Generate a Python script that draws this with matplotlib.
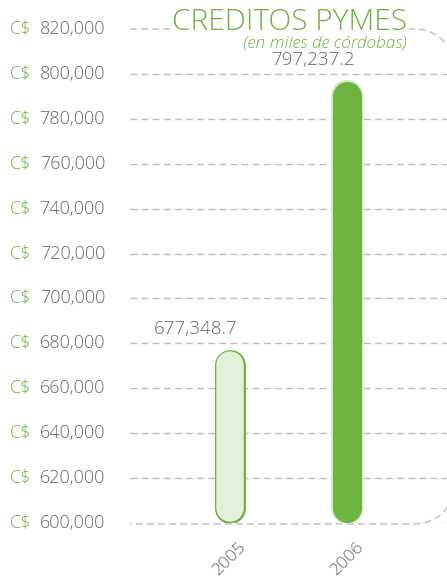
import matplotlib
matplotlib.use('Agg')
import matplotlib.pyplot as plt
import numpy as np
from matplotlib.path import Path
from matplotlib.patches import PathPatch

# Data
years = ['2005', '2006']
values = [677348.7, 797237.2]
value_labels = ['677,348.7', '797,237.2']
yticks = list(range(600000, 820001, 20000))

GREEN = '#6db33f'
LIGHT = '#e2efd9'
HALO = '#d3e8c4'
GRAY = '#666666'
GRID = '#bdbdbd'

W, H = 447, 579
plt.rcParams['font.family'] = ['Open Sans', 'DejaVu Sans']
FW = 'light'

fig = plt.figure(figsize=(W / 100, H / 100), dpi=100)
# axes placed in pixel terms
ax_l, ax_r, ax_b, ax_t = 130, 447, 523, 29
ax = fig.add_axes([ax_l / W, 1 - ax_b / H, (ax_r - ax_l) / W, (ax_b - ax_t) / H])
ax.set_ylim(600000, 820000)
ax.set_xlim(-0.847, 1.851)
for s in ax.spines.values():
    s.set_visible(False)
ax.set_yticks(yticks)
ax.set_yticklabels([])
ax.tick_params(axis='y', length=0)
ax.set_xticks(range(len(years)))
ax.set_xticklabels(years, rotation=45, ha='center', color=GRAY, fontsize=12.5, fontweight=FW)
ax.tick_params(axis='x', length=0, pad=12)

# gridlines (top one belongs to the frame)
for t in yticks[:-1]:
    ax.axhline(t, color=GRID, lw=1, ls=(0, (5, 3)), zorder=1)

# y labels in two colours
for t in yticks:
    ax.annotate('C$', xy=(0, t), xycoords=('axes fraction', 'data'),
                xytext=(10 - ax_l, 0), textcoords='offset pixels',
                ha='left', va='center', color=GREEN, fontsize=13, fontweight=FW,
                annotation_clip=False)
    ax.annotate(f'{t:,}', xy=(0, t), xycoords=('axes fraction', 'data'),
                xytext=(105 - ax_l, 0), textcoords='offset pixels',
                ha='right', va='center', color=GRAY, fontsize=13, fontweight=FW,
                annotation_clip=False)

# rounded bars drawn as thick lines with round caps
data_per_px = (820000 - 600000) / (ax_b - ax_t)
pt = 72 / 100
bar_px = 31
r = bar_px / 2 * data_per_px
base = 600000
# 2005 outlined light bar
ax.plot([0, 0], [base + r, values[0] - r], color=GREEN, lw=bar_px * pt,
        solid_capstyle='round', zorder=3)
ax.plot([0, 0], [base + r, values[0] - r], color=LIGHT, lw=(bar_px - 3.5) * pt,
        solid_capstyle='round', zorder=4)
# 2006 solid bar with light halo
ax.plot([1, 1], [base + r, values[1] - r], color=HALO, lw=(bar_px + 1) * pt,
        solid_capstyle='round', zorder=3)
ax.plot([1, 1], [base + r, values[1] - r], color=GREEN, lw=(bar_px - 2) * pt,
        solid_capstyle='round', zorder=4)

for i, (v, lab) in enumerate(zip(values, value_labels)):
    ax.annotate(lab, xy=(i - 0.29, v), xytext=(0, 22), textcoords='offset pixels',
                ha='center', va='center_baseline', color=GRAY, fontsize=13.5, fontweight=FW,
                zorder=6, annotation_clip=False)

# dashed rounded frame on the right
def px(x, y):
    return (x / W, 1 - y / H)

R = 40
xr = 455
top, bot = 29, 524
pts = [px(130, top), px(xr - R, top)]
for a in np.linspace(90, 0, 20):
    pts.append(px(xr - R + R * np.cos(np.radians(a)), top + R - R * np.sin(np.radians(a))))
for a in np.linspace(0, -90, 20):
    pts.append(px(xr - R + R * np.cos(np.radians(a)), bot - R - R * np.sin(np.radians(a))))
pts.append(px(130, bot))
frame = PathPatch(Path(pts), transform=fig.transFigure, fill=False, edgecolor=GRID,
                  lw=1, ls=(0, (5, 3)), zorder=2)
fig.add_artist(frame)

# title
fig.text(290 / W, 1 - 22 / H, 'CREDITOS PYMES', ha='center', va='center', color=GREEN,
         fontsize=21.5, fontweight=FW, zorder=5,
         bbox=dict(facecolor='white', edgecolor='none', pad=1))
fig.text(407 / W, 1 - 44 / H, '(en miles de córdobas)', ha='right', va='center',
         color=GREEN, fontsize=12.5, style='italic', fontweight=FW, zorder=5)

fig.savefig('out.png', dpi=100)
